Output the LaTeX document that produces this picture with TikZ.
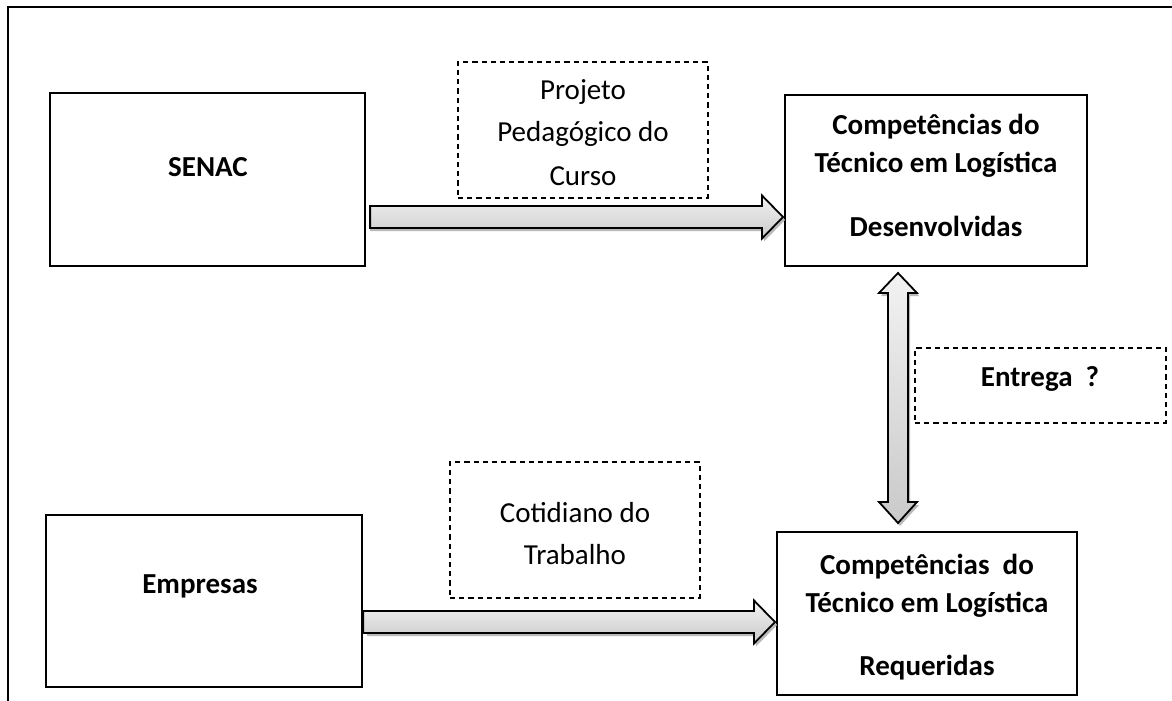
\documentclass[tikz,border=0pt]{standalone}
\usepackage{fontspec}
\setmainfont{Carlito}
\usetikzlibrary{calc}
\begin{document}
\begin{tikzpicture}[x=0.5pt,y=-0.5pt,
  box/.style={draw=black, line width=1.1pt, inner sep=0pt, rectangle},
  dbox/.style={draw=black, line width=0.75pt, dash pattern=on 2.6pt off 2pt, inner sep=0pt, rectangle},
  btxt/.style={font=\fontsize{14.5}{17}\selectfont\bfseries, inner sep=0pt},
  rtxt/.style={font=\fontsize{14.5}{17}\selectfont, inner sep=0pt},
  barrow/.style={draw=black, line width=0.9pt, top color=gray!10, bottom color=gray!42, line join=miter},
  bshadow/.style={fill=gray!55, draw=none}]
\useasboundingbox (0,0) rectangle (1172,701);
% frame
\draw[line width=1.2pt] (1172,7) -- (8,7) -- (8,701);
% boxes
\node[box, minimum width=157.5pt, minimum height=86.5pt] (senac) at (207.5,179.5) {};
\node[box, minimum width=158pt, minimum height=86pt] (emp) at (204,601) {};
\node[box, minimum width=151pt, minimum height=85.5pt] (dev) at (936,180.5) {};
\node[box, minimum width=150pt, minimum height=81.5pt] (req) at (927,613.5) {};
\node[dbox, minimum width=125pt, minimum height=68pt] (proj) at (583,130) {};
\node[dbox, minimum width=125pt, minimum height=68pt] (cot) at (575,530) {};
\node[dbox, minimum width=125.5pt, minimum height=37.5pt] (entrega) at (1040.5,385.5) {};
% texts
\node[btxt] (tsenac) at (208,167) {SENAC};
\node[btxt] (temp) at (200,586) {Empresas};
\node[btxt] (td1) at (936,127) {Competências do};
\node[btxt] (td2) at (936,165) {Técnico em Logística};
\node[btxt] (td3) at (936,226) {Desenvolvidas};
\node[btxt] (tr1) at (927,567) {Competências~ do};
\node[btxt] (tr2) at (927,605) {Técnico em Logística};
\node[btxt] (tr3) at (927,668) {Requeridas};
\node[rtxt] (tp1) at (583,92) {Projeto};
\node[rtxt] (tp2) at (583,134) {Pedagógico do};
\node[rtxt] (tp3) at (583,176) {Curso};
\node[rtxt] (tc1) at (575,513) {Cotidiano do};
\node[rtxt] (tc2) at (575,555) {Trabalho};
\node[btxt] (tent) at (1040,379) {Entrega~~?};
% arrow end points
\coordinate (a1s) at (senac.east |- 0,217);
\coordinate (a1e) at (783,217);
\coordinate (a2s) at (emp.east |- 0,622);
\coordinate (a2e) at (775,622);
\coordinate (vt) at (898,273);
\coordinate (vb) at (898,523);
% shadows
\foreach \s/\e in {a1s/a1e, a2s/a2e}{
  \fill[bshadow] ($(\s)+(4,-8)$) -- ($(\e)+(-19,-8)$) -- ($(\e)+(-19,-18.5)$) -- ($(\e)+(2,3)$) -- ($(\e)+(-19,24.5)$) -- ($(\e)+(-19,14)$) -- ($(\s)+(4,14)$) -- cycle;
}
\fill[bshadow] ($(vt)+(2,3)$) -- ($(vt)+(21,23)$) -- ($(vt)+(12,23)$) -- ($(vb)+(12,-18)$) -- ($(vb)+(21,-18)$) -- ($(vb)+(2,3)$) -- ($(vb)+(-17,-18)$) -- ($(vb)+(-8,-18)$) -- ($(vt)+(-8,23)$) -- ($(vt)+(-17,23)$) -- cycle;
% block arrows
\draw[barrow] ($(a1s)+(4,-11)$) -- ($(a1e)+(-21,-11)$) -- ($(a1e)+(-21,-21.5)$) -- (a1e) -- ($(a1e)+(-21,21.5)$) -- ($(a1e)+(-21,11)$) -- ($(a1s)+(4,11)$) -- cycle;
\draw[barrow] ($(a2s)+(0,-11)$) -- ($(a2e)+(-21,-11)$) -- ($(a2e)+(-21,-21.5)$) -- (a2e) -- ($(a2e)+(-21,21.5)$) -- ($(a2e)+(-21,11)$) -- ($(a2s)+(0,11)$) -- cycle;
\draw[barrow] (vt) -- ($(vt)+(19,20)$) -- ($(vt)+(10,20)$) -- ($(vb)+(10,-21)$) -- ($(vb)+(19,-21)$) -- (vb) -- ($(vb)+(-19,-21)$) -- ($(vb)+(-10,-21)$) -- ($(vt)+(-10,20)$) -- ($(vt)+(-19,20)$) -- cycle;
\end{tikzpicture}
\end{document}
